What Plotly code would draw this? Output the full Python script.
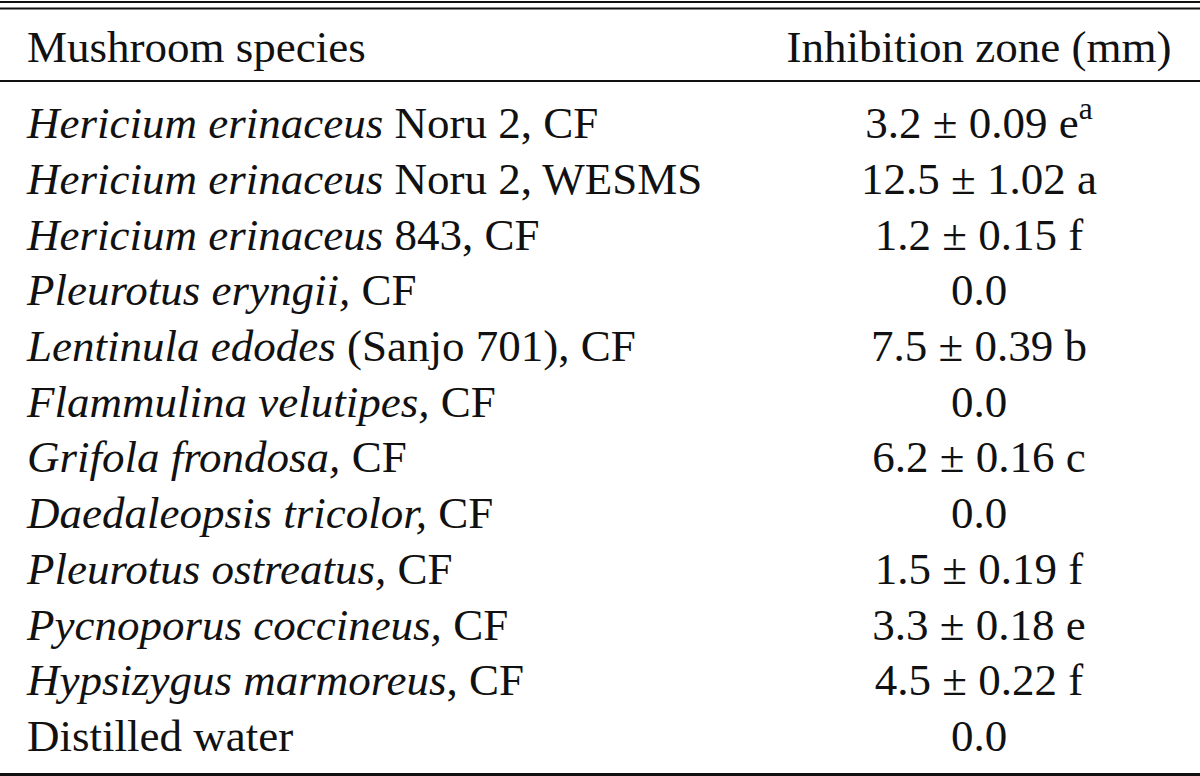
import plotly.graph_objects as go

species = [
    "<i>Hericium erinaceus</i> Noru 2, CF",
    "<i>Hericium erinaceus</i> Noru 2, WESMS",
    "<i>Hericium erinaceus</i> 843, CF",
    "<i>Pleurotus eryngii,</i> CF",
    "<i>Lentinula edodes</i> (Sanjo 701), CF",
    "<i>Flammulina velutipes,</i> CF",
    "<i>Grifola frondosa,</i> CF",
    "<i>Daedaleopsis tricolor,</i> CF",
    "<i>Pleurotus ostreatus,</i> CF",
    "<i>Pycnoporus coccineus,</i> CF",
    "<i>Hypsizygus marmoreus</i>, CF",
    "Distilled water",
]
means = [3.2, 12.5, 1.2, 0.0, 7.5, 0.0, 6.2, 0.0, 1.5, 3.3, 4.5, 0.0]
sds = [0.09, 1.02, 0.15, None, 0.39, None, 0.16, None, 0.19, 0.18, 0.22, None]
groups = ["e", "a", "f", "", "b", "", "c", "", "f", "e", "f", ""]
notes = ["a", "", "", "", "", "", "", "", "", "", "", ""]
headers = ["Mushroom species", "Inhibition zone (mm)"]

values = []
for m, s, g, n in zip(means, sds, groups, notes):
    if s is None:
        t = f"{m:.1f}"
    else:
        t = f"{m:.1f} ± {s:.2f} {g}"
    if n:
        t += f"<sup>{n}</sup>"
    values.append(t)

rows = list(range(1, len(species) + 1))
FONT = "Liberation Serif"
FS = 45

fig = go.Figure()
fig.add_trace(go.Scatter(
    x=[27] * len(species), y=rows, text=species, mode="text",
    textposition="middle right", textfont=dict(family=FONT, size=FS, color="#111"),
    hoverinfo="skip", showlegend=False))
fig.add_trace(go.Scatter(
    x=[979] * len(values), y=rows, text=values, mode="text",
    textposition="middle center", textfont=dict(family=FONT, size=FS, color="#111"),
    hoverinfo="skip", showlegend=False))
fig.add_trace(go.Scatter(
    x=[27, 979], y=[-0.365, -0.365], text=headers, mode="text",
    textposition=["middle right", "middle center"],
    textfont=dict(family=FONT, size=FS, color="#111"),
    hoverinfo="skip", showlegend=False))

for yp, w in [(2, 2), (8.5, 2), (81, 2), (774.5, 3)]:
    fig.add_shape(type="line", xref="paper", yref="paper", x0=0, x1=1,
                  y0=1 - yp / 776, y1=1 - yp / 776, line=dict(color="#111", width=w))

step = 55.7
base = 127
fig.update_layout(
    width=1200, height=776, margin=dict(l=0, r=0, t=0, b=0),
    paper_bgcolor="white", plot_bgcolor="white",
    xaxis=dict(range=[0, 1200], visible=False, fixedrange=True),
    yaxis=dict(range=[1 + (776 - base) / step, 1 - base / step], visible=False, fixedrange=True),
)
fig.write_html("out.html", config={"displayModeBar": False},
               post_script="document.body.style.margin='0';document.body.style.overflow='hidden';")
